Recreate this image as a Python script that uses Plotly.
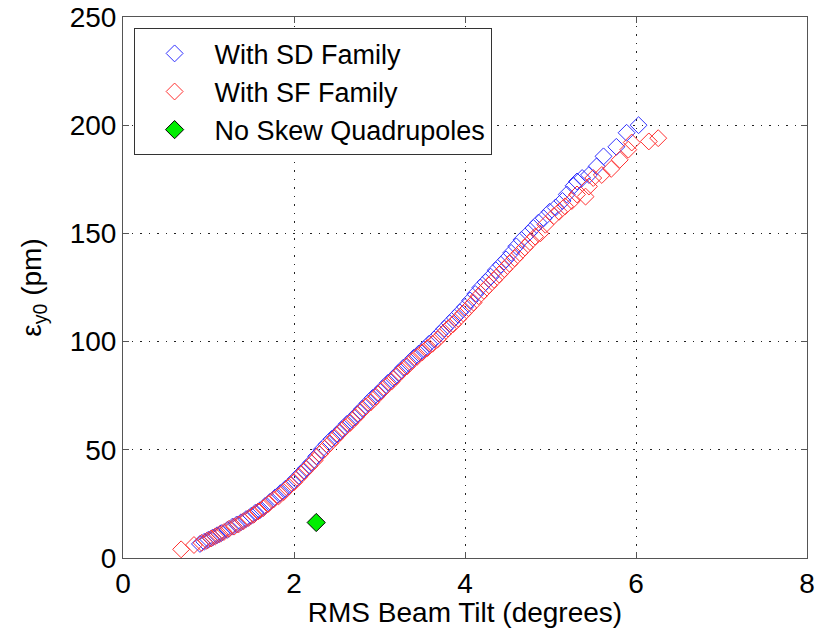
import plotly.graph_objects as go

sd_x = [0.90, 0.95, 1.00, 1.05, 1.10, 1.15, 1.22, 1.28, 1.33, 1.38, 1.44, 1.50, 1.55, 1.60,
        1.66, 1.72, 1.78, 1.84, 1.90, 1.96, 2.02, 2.08, 2.14, 2.20, 2.26, 2.32, 2.38, 2.44,
        2.50, 2.56, 2.62, 2.68, 2.74, 2.80, 2.86, 2.92, 2.98, 3.04, 3.10, 3.16, 3.22, 3.28,
        3.34, 3.40, 3.46, 3.52, 3.58, 3.64, 3.70, 3.76, 3.82, 3.88, 3.94, 4.00, 4.06, 4.12,
        4.18, 4.24, 4.30, 4.36, 4.42, 4.48, 4.54, 4.60, 4.66, 4.74, 4.80, 4.86, 4.92, 4.99,
        5.06, 5.14, 5.19, 5.27, 5.31, 5.37, 5.45, 5.54, 5.62, 5.77, 5.89, 6.03]
sd_y = [6.5, 7.5, 8.5, 9.5, 10.5, 11.5, 13, 14.5, 15.5, 16.5, 18, 19.5, 21, 22,
        24, 26, 28, 30, 32, 34, 36.5, 39, 41.5, 44, 47, 50, 52.5, 55,
        57, 59.5, 62, 64, 66.5, 69, 71.5, 74, 76, 78.5, 81, 83, 85.5, 88,
        90, 92.5, 94.5, 96.5, 99, 101, 103.5, 106, 108.5, 111, 113.5, 116, 119, 122,
        125, 127.5, 130, 133, 135.5, 138, 141, 144, 147, 150, 152.5, 155, 157, 160,
        162, 165, 168, 172, 174, 175.6, 177, 181, 185.6, 190, 196.5, 200]

sf_x = [0.68, 0.83, 0.92, 0.98, 1.03, 1.08, 1.13, 1.18, 1.24, 1.30, 1.35, 1.41, 1.47, 1.53,
        1.58, 1.64, 1.70, 1.76, 1.82, 1.88, 1.94, 2.00, 2.06, 2.12, 2.18, 2.24, 2.30, 2.36,
        2.42, 2.48, 2.54, 2.60, 2.66, 2.72, 2.78, 2.84, 2.90, 2.96, 3.02, 3.08, 3.14, 3.20,
        3.26, 3.32, 3.38, 3.44, 3.50, 3.56, 3.62, 3.68, 3.74, 3.80, 3.86, 3.92, 3.98, 4.04,
        4.10, 4.16, 4.22, 4.28, 4.34, 4.40, 4.46, 4.52, 4.58, 4.64, 4.70, 4.76, 4.82, 4.88,
        4.94, 5.04, 5.10, 5.17, 5.25, 5.31, 5.41, 5.45, 5.50, 5.60, 5.71, 5.81, 5.91, 5.95,
        6.15, 6.26]
sf_y = [4, 6, 7, 8, 9, 10, 11, 12, 13.5, 14.5, 15.5, 17, 18.5, 20,
        21.5, 23, 25, 27, 28.5, 30.5, 33, 35, 37.5, 40, 42.5, 45, 48, 50.5,
        53, 55.5, 58, 60.5, 62.5, 65, 67.5, 70, 72, 74.5, 77, 79.5, 81.5, 84,
        86.5, 88.5, 91, 93, 95, 97, 99, 101, 103.5, 106, 108, 110.5, 113, 115.5,
        118, 121, 123.5, 126, 128.5, 131, 133.5, 136, 138.5, 141, 143.5, 146, 148.5, 150,
        154, 158, 160, 162.5, 165, 168, 167, 171.7, 175.6, 177, 179.8, 184, 188.7, 192,
        192.5, 194]

noskew_x = [2.26]
noskew_y = [16.4]

x_ticks = [0, 2, 4, 6, 8]
y_ticks = [0, 50, 100, 150, 200, 250]

FONT = "Liberation Sans, Arial, sans-serif"
FS = 28

fig = go.Figure()
fig.add_trace(go.Scatter(x=sd_x, y=sd_y, mode="markers", name="With SD Family",
                         marker=dict(symbol="diamond-open", size=13, color="#3030ff",
                                     line=dict(width=1, color="#3030ff"))))
fig.add_trace(go.Scatter(x=sf_x, y=sf_y, mode="markers", name="With SF Family",
                         marker=dict(symbol="diamond-open", size=13, color="#ff3030",
                                     line=dict(width=1, color="#ff3030"))))
fig.add_trace(go.Scatter(x=noskew_x, y=noskew_y, mode="markers", name="No Skew Quadrupoles",
                         marker=dict(symbol="diamond", size=14, color="#00ee00",
                                     line=dict(width=1, color="black"))))

axis_common = dict(
    showline=True, linecolor="#555555", linewidth=1, mirror="ticks",
    ticks="inside", ticklen=6, tickcolor="#555555",
    showgrid=True, gridcolor="#222222", gridwidth=1, griddash="1.5px,7px",
    zeroline=False, automargin=False,
    tickfont=dict(family=FONT, size=FS, color="black"),
)

fig.update_xaxes(range=[0, 8], tickvals=x_ticks, ticktext=[str(v) for v in x_ticks],
                 title=dict(text="RMS Beam Tilt (degrees)",
                            font=dict(family=FONT, size=FS, color="black"), standoff=0),
                 **axis_common)
fig.update_yaxes(range=[0, 250], tickvals=y_ticks, ticktext=[str(v) for v in y_ticks],
                 title=dict(text="ε<sub>y0</sub> (pm)",
                            font=dict(family=FONT, size=FS, color="black"), standoff=19),
                 **axis_common)

fig.update_layout(
    width=821, height=628,
    margin=dict(l=123, r=14, t=17, b=70),
    paper_bgcolor="white", plot_bgcolor="white",
    font=dict(family=FONT, size=FS, color="black"),
    showlegend=True,
    legend=dict(x=0.0155, y=0.979, xanchor="left", yanchor="top",
                bgcolor="white", bordercolor="#333333", borderwidth=1,
                font=dict(family=FONT, size=27, color="black"),
                itemwidth=70, tracegroupgap=0),
)

fig.write_html("out.html")
